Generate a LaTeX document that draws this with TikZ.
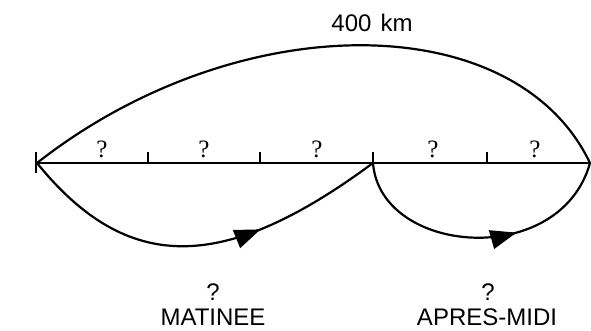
\documentclass[tikz,border=0pt]{standalone}
\usepackage{fontspec}
\setmainfont{Liberation Sans}
\newfontfamily\qmarkfont{Liberation Serif}
\usetikzlibrary{arrows.meta,decorations.markings}

\begin{document}
\begin{tikzpicture}[
      x=1pt, y=1pt,
      >={Triangle[length=26pt,width=19pt]},
      trip/.style={line width=2.2pt},
      tick/.style={line width=1.8pt},
      arrowat/.style={postaction={decorate}, decoration={markings,
        mark=at position #1 with {\arrow{>}}}},
      daytext/.style={font=\fontsize{24}{24}\selectfont, inner sep=0pt, anchor=base},
      qmark/.style={font=\qmarkfont\fontsize{25}{25}\selectfont, inner sep=0pt, anchor=base}]
    \useasboundingbox (0,0) rectangle (591,330);
    \coordinate (west) at (37,167);
    \coordinate (mid) at (373,167);
    \coordinate (east) at (590,167);

    % the 400 km stretch and its five parts
    \draw[trip] (west) -- (east);
    \draw[trip] (west) ++(-1,-10) -- ++(0,21);
    \foreach \x in {148,260,373,487}
      \draw[tick] (\x,167) -- ++(0,11);
    \foreach \x/\n in {102/1,204/2,317/3,433/4,535/5}
      \node[qmark] (q\n) at (\x,173) {?};

    \draw[trip] (west) .. controls (237,324) and (515,324) .. (east);
    \node[daytext] (dist) at (372,298) {400\hspace{9pt}km};

    % morning and afternoon legs
    \draw[trip, arrowat=0.66] (west) .. controls (127,56) and (223,56) .. (mid);
    \draw[trip, arrowat=0.63] (mid) .. controls (380,75) and (560,60) .. (east);
    \node[daytext] (morningq) at (213,30) {?};
    \node[daytext] (morning) at (213,5) {MATINEE};
    \node[daytext] (afternoonq) at (488,30) {?};
    \node[daytext] (afternoon) at (487,5) {APRES-MIDI};
  \end{tikzpicture}
\end{document}
